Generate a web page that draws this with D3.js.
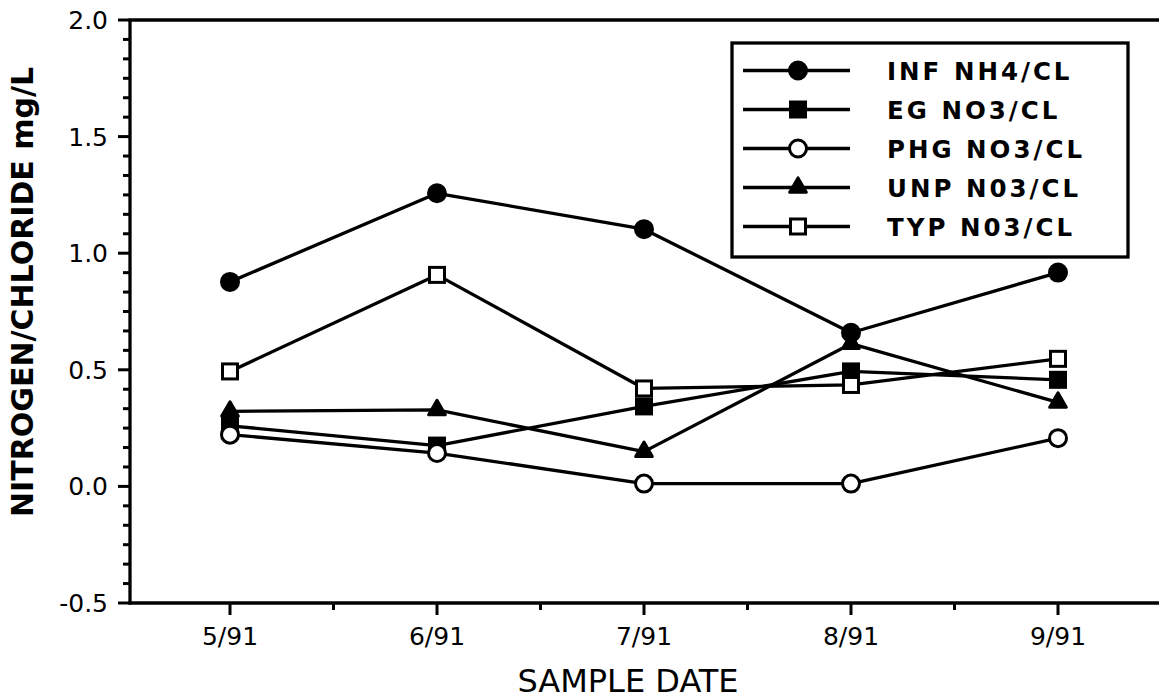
<!DOCTYPE html>
<html>
<head>
<meta charset="utf-8">
<script src="https://cdn.jsdelivr.net/npm/d3@7"></script>
<style>
  html, body { margin: 0; padding: 0; background: #fff; }
  svg { display: block; }
</style>
</head>
<body>
<svg id="chart" width="1159" height="700"></svg>
<script>
// ---- data ----
const dates = [5, 6, 7, 8, 9];
const dateLabels = ["5/91", "6/91", "7/91", "8/91", "9/91"];
const seriesNames = ["INF NH4/CL", "EG NO3/CL", "PHG NO3/CL", "UNP N03/CL", "TYP N03/CL"];
const infNH4 = [0.877, 1.257, 1.103, 0.659, 0.917];
const egNO3  = [0.26, 0.175, 0.343, 0.493, 0.457];
const phgNO3 = [0.222, 0.143, 0.012, 0.012, 0.207];
const unpNO3 = [0.322, 0.328, 0.149, 0.612, 0.36];
const typNO3 = [0.493, 0.907, 0.42, 0.435, 0.547];
const yTicks = [-0.5, 0.0, 0.5, 1.0, 1.5, 2.0];
const yTickLabels = ["-0.5", "0.0", "0.5", "1.0", "1.5", "2.0"];
const markers = ["circleFilled", "squareFilled", "circleOpen", "triangleFilled", "squareOpen"];

const seriesValues = [infNH4, egNO3, phgNO3, unpNO3, typNO3];

// ---- layout ----
const svg = d3.select("#chart");
const pLeft = 130, pRight = 1159, pTop = 20, pBottom = 603;
const x = d3.scaleLinear().domain([5, 9]).range([230, 1058]);
const y = d3.scaleLinear().domain([-0.5, 2.0]).range([pBottom, pTop]);

const ink = "#000";
const sw = 3.3;
const tickFont = "'DejaVu Sans', sans-serif";

// frame: left axis, bottom axis, top line
svg.append("line").attr("x1", pLeft).attr("x2", pLeft).attr("y1", pTop).attr("y2", pBottom + 1.5)
  .attr("stroke", ink).attr("stroke-width", sw);
svg.append("line").attr("x1", pLeft - 1.5).attr("x2", pRight).attr("y1", pBottom).attr("y2", pBottom)
  .attr("stroke", ink).attr("stroke-width", sw);
svg.append("line").attr("x1", pLeft - 1.5).attr("x2", pRight).attr("y1", pTop).attr("y2", pTop)
  .attr("stroke", ink).attr("stroke-width", sw);

// y axis ticks
const yMinor = d3.range(-0.5, 2.0001, 0.5 / 6).filter(v => !yTicks.some(t => Math.abs(t - v) < 1e-6));
svg.selectAll(".ymaj").data(yTicks).join("line")
  .attr("x1", pLeft - 12).attr("x2", pLeft).attr("y1", d => y(d)).attr("y2", d => y(d))
  .attr("stroke", ink).attr("stroke-width", 3);
svg.selectAll(".ymin").data(yMinor).join("line")
  .attr("x1", pLeft - 7).attr("x2", pLeft).attr("y1", d => y(d)).attr("y2", d => y(d))
  .attr("stroke", ink).attr("stroke-width", 3);
svg.selectAll(".ylab").data(yTicks).join("text")
  .attr("x", 108).attr("y", d => y(d) + 9)
  .attr("text-anchor", "end")
  .attr("font-family", tickFont).attr("font-size", 25).attr("fill", ink)
  .text((d, i) => yTickLabels[i]);

// x axis ticks
const xMinor = [5.5, 6.5, 7.5, 8.5];
svg.selectAll(".xmaj").data(dates).join("line")
  .attr("x1", d => x(d)).attr("x2", d => x(d)).attr("y1", pBottom).attr("y2", pBottom + 12)
  .attr("stroke", ink).attr("stroke-width", 3);
svg.selectAll(".xmin").data(xMinor).join("line")
  .attr("x1", d => x(d)).attr("x2", d => x(d)).attr("y1", pBottom).attr("y2", pBottom + 7)
  .attr("stroke", ink).attr("stroke-width", 3);
svg.selectAll(".xlab").data(dates).join("text")
  .attr("x", d => x(d)).attr("y", 645)
  .attr("text-anchor", "middle")
  .attr("font-family", tickFont).attr("font-size", 25).attr("fill", ink)
  .text((d, i) => dateLabels[i]);

// axis titles
svg.append("text")
  .attr("transform", "translate(33,292) rotate(-90)")
  .attr("text-anchor", "middle")
  .attr("font-family", "'DejaVu Sans', sans-serif").attr("font-weight", "bold")
  .attr("font-size", 30).attr("fill", ink)
  .text("NITROGEN/CHLORIDE mg/L");
svg.append("text")
  .attr("x", 628).attr("y", 692)
  .attr("text-anchor", "middle")
  .attr("font-family", tickFont).attr("font-size", 32).attr("fill", ink)
  .text("SAMPLE DATE");

// marker drawing
function drawMarker(g, type, cx, cy) {
  if (type === "circleFilled" || type === "circleOpen") {
    g.append("circle").attr("cx", cx).attr("cy", cy).attr("r", 8.5)
      .attr("fill", type === "circleFilled" ? ink : "#fff")
      .attr("stroke", ink).attr("stroke-width", 3);
  } else if (type === "squareFilled" || type === "squareOpen") {
    g.append("rect").attr("x", cx - 7.5).attr("y", cy - 7.5).attr("width", 15).attr("height", 15)
      .attr("fill", type === "squareFilled" ? ink : "#fff")
      .attr("stroke", ink).attr("stroke-width", 3);
  } else if (type === "triangleFilled") {
    g.append("path").attr("transform", `translate(${cx},${cy})`)
      .attr("d", d3.symbol().type(d3.symbolTriangle).size(120)())
      .attr("fill", ink).attr("stroke", ink).attr("stroke-width", 3).attr("stroke-linejoin", "round");
  }
}

// lines
const line = d3.line().x((d, i) => x(dates[i])).y(d => y(d));
const plot = svg.append("g");
seriesValues.forEach(vals => {
  plot.append("path").attr("d", line(vals)).attr("fill", "none")
    .attr("stroke", ink).attr("stroke-width", sw).attr("stroke-linejoin", "round");
});
seriesValues.forEach((vals, s) => {
  const g = plot.append("g");
  vals.forEach((v, i) => drawMarker(g, markers[s], x(dates[i]), y(v)));
});

// legend
const legend = svg.append("g");
legend.append("rect").attr("x", 732).attr("y", 43).attr("width", 396).attr("height", 214)
  .attr("fill", "#fff").attr("stroke", ink).attr("stroke-width", sw);
seriesNames.forEach((name, i) => {
  const cy = 70.5 + i * 39;
  legend.append("line").attr("x1", 743).attr("x2", 850).attr("y1", cy).attr("y2", cy)
    .attr("stroke", ink).attr("stroke-width", sw);
  drawMarker(legend, markers[i], 798, cy);
  legend.append("text").attr("x", 887).attr("y", cy + 9)
    .attr("font-family", "'DejaVu Sans', sans-serif").attr("font-weight", "bold")
    .attr("font-size", 24.5).attr("letter-spacing", 3).attr("fill", ink)
    .text(name);
});
</script>
</body>
</html>
